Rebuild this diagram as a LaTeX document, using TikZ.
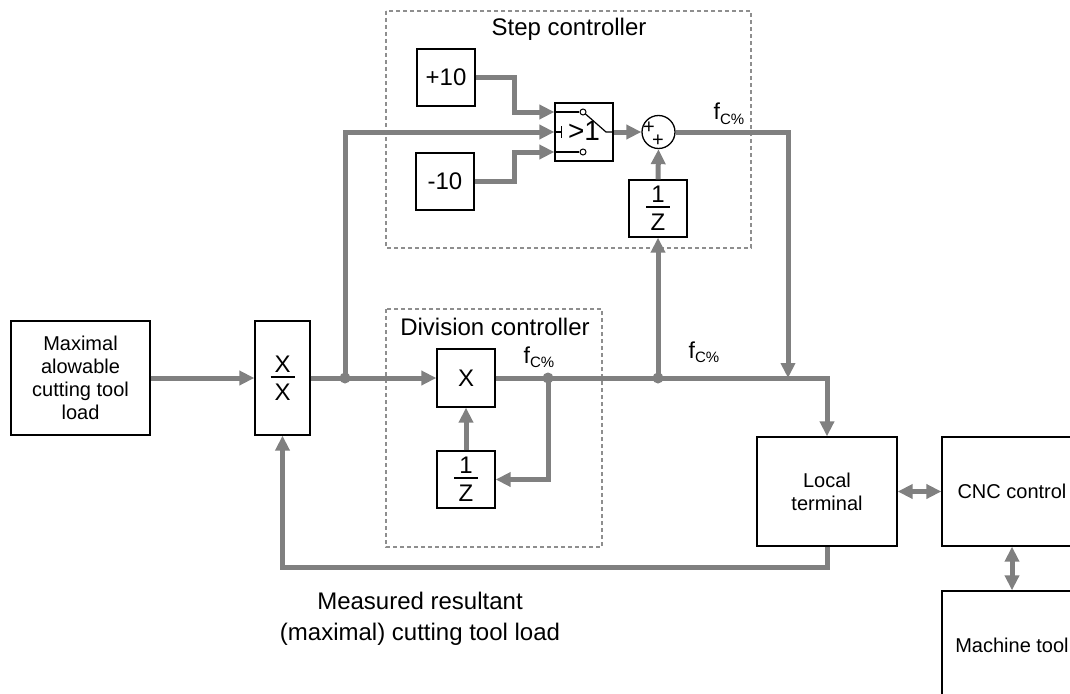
\documentclass[tikz,border=0pt]{standalone}
\usepackage{fontspec}
\setmainfont{Liberation Sans}
\usetikzlibrary{arrows.meta,calc}
\definecolor{lc}{HTML}{808080}
\definecolor{dc}{HTML}{8E8E8E}
\newcommand\myfr[2]{\vbox{\hbox to 24pt{\hss#1\hss}\kern3.5pt\hrule height1.8pt\kern6pt\hbox to 24pt{\hss#2\hss}}}
\newcommand\fcp{f{\fontsize{15}{15}\selectfont\raisebox{-4.5pt}{C\%}}}
\begin{document}
\begin{tikzpicture}[x=1pt,y=-1pt,
  blk/.style={draw=black,line width=1.3pt,fill=white,inner sep=0pt,font=\fontsize{20}{23}\selectfont,align=center},
  big/.style={font=\fontsize{24}{28}\selectfont},
  conn/.style={draw=lc,line width=5pt},
  arr/.style={conn,-{Triangle[length=15pt,width=14pt]}},
  darr/.style={conn,{Triangle[length=15pt,width=14pt]}-{Triangle[length=15pt,width=14pt]}},
  dot/.style={circle,fill=lc,inner sep=0pt,minimum size=11pt},
  grp/.style={draw=dc,line width=1.8pt,dash pattern=on 4pt off 3pt},
  lbl/.style={font=\fontsize{24}{31}\selectfont,align=center,inner sep=0pt},
  flbl/.style={font=\fontsize{23}{23}\selectfont,inner sep=0pt},
  sgn/.style={font=\fontsize{20}{20}\selectfont,inner sep=0pt}
]
\useasboundingbox (0,0) rectangle (1070,693);
% groups
\draw[grp] (386,11) rectangle (751,248);
\draw[grp] (386,309) rectangle (602,547);
\node[lbl] (tstep) at (569,29) {Step controller};
\node[lbl] (tdiv) at (495,327) {Division controller};
% blocks
\node[blk,minimum width=139pt,minimum height=114pt] (maxl) at (80.5,378) {Maximal\\alowable\\cutting tool\\load};
\node[blk,big,minimum width=55pt,minimum height=114pt] (xx) at (282.5,378) {\myfr{X}{X}};
\node[blk,big,minimum width=58pt,minimum height=58pt] (xm) at (466,378) {X};
\node[blk,big,minimum width=58pt,minimum height=57pt] (zd) at (466,479.5) {\myfr{1}{Z}};
\node[blk,big,minimum width=58pt,minimum height=57pt] (p10) at (446,77.5) {+10};
\node[blk,big,minimum width=58pt,minimum height=57pt] (m10) at (445,181.5) {-10};
\node[blk,minimum width=58pt,minimum height=58pt] (sw) at (584,132) {};
\node[circle,draw=black,line width=1.3pt,fill=white,minimum size=33pt,inner sep=0pt] (sum) at (658.5,132) {};
\node[blk,big,minimum width=58pt,minimum height=57pt] (zs) at (658,208.5) {\myfr{1}{Z}};
\node[blk,minimum width=140pt,minimum height=109pt] (loc) at (827,491.5) {Local\\terminal};
\node[blk,minimum width=140pt,minimum height=109pt] (cnc) at (1012,491.5) {CNC control};
\node[blk,minimum width=140pt,minimum height=109pt] (mach) at (1012,645.5) {Machine tool};
% coordinates
\coordinate (j1) at (345,378);
\coordinate (j2) at (548,378);
\coordinate (j3) at (658,378);
\coordinate (dn) at (788,378);
\coordinate (fb) at (827,567);
\coordinate (swa) at ($(sw.west)+(0,-20)$);
\coordinate (swc) at ($(sw.west)+(0,20)$);
% switch interior
\draw[line width=1.2pt] (swa) -- ++(25,0);
\draw[line width=1.2pt] (swc) -- ++(25,0);
\draw[line width=1.2pt] (585.5,114) -- (606,132) -- (sw.east);
\draw[line width=1.2pt] (sw.west) -- ++(7,0) ++(0,-6) -- ++(0,12);
\draw[line width=1pt,fill=white] (583,112) circle (3);
\draw[line width=1pt,fill=white] (583,152) circle (3);
\node[font=\fontsize{28}{28}\selectfont,inner sep=0pt] (gt) at (584,131) {>1};
\node[sgn] (s1) at (649,128) {+};
\node[sgn] (s2) at (658,141) {+};
% connectors
\draw[arr] (maxl.east) -- (xx.west);
\draw[conn] (xx.east) -- (j1);
\draw[arr] (j1) -- (xm.west);
\draw[arr] (j1) |- (sw.west);
\draw[arr] (p10.east) -| ($(swa)+(-40,0)$) -- (swa);
\draw[arr] (m10.east) -| ($(swc)+(-40,0)$) -- (swc);
\draw[arr] (sw.east) -- (sum.west);
\draw[arr] (sum.east) -| (dn);
\draw[arr] (zs.north) -- (sum.south);
\draw[arr] (j3) -- (zs.south);
\draw[arr] (xm.east) -| (loc.north);
\draw[arr] (j2) |- (zd.east);
\draw[arr] (zd.north) -- (xm.south);
\draw[arr] (loc.south) -- (fb) -| (xx.south);
\draw[darr] (loc.east) -- (cnc.west);
\draw[darr] (cnc.south) -- (mach.north);
\node[dot] at (j1) {};
\node[dot] at (j2) {};
\node[dot] at (j3) {};
% labels
\node[flbl] (f1) at (539,357) {\fcp};
\node[flbl] (f2) at (704,352) {\fcp};
\node[flbl] (f3) at (729,114) {\fcp};
\node[lbl] (meas) at (420,619) {Measured resultant\\(maximal) cutting tool load};
\end{tikzpicture}
\end{document}
